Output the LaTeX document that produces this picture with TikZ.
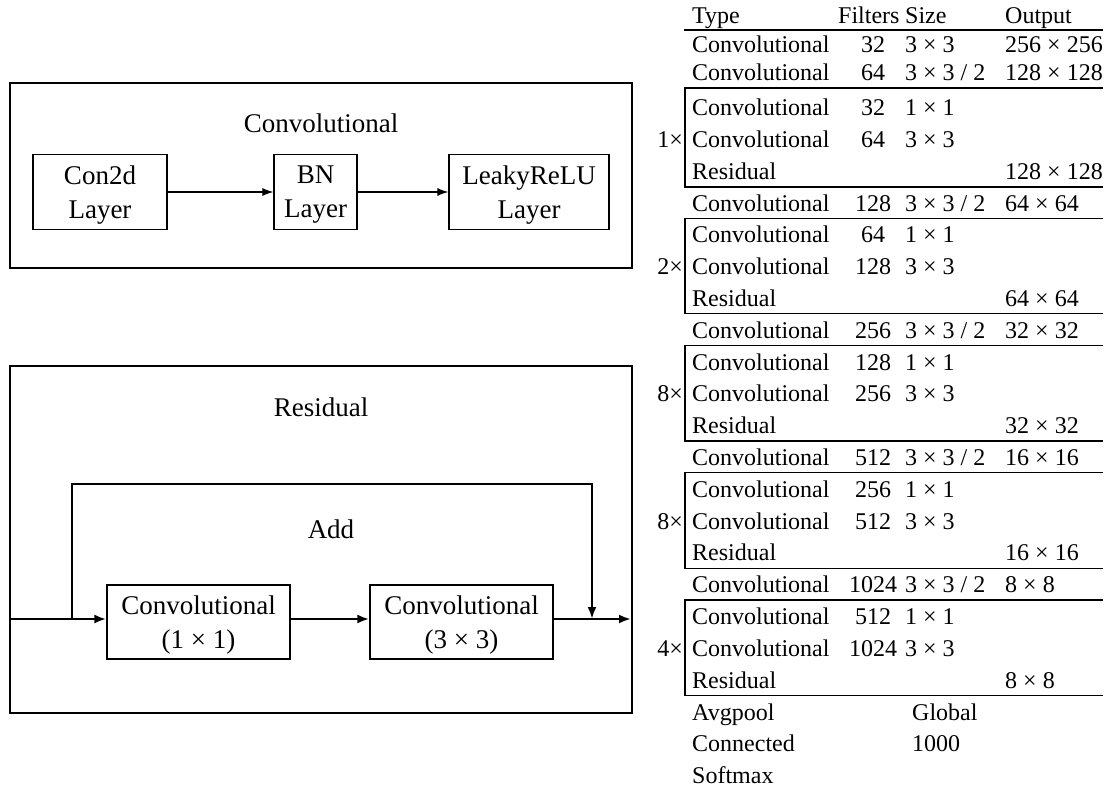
\documentclass[tikz,border=0pt]{standalone}
\usepackage{fontspec}
\setmainfont{Liberation Serif}
\usetikzlibrary{arrows.meta}

\tikzset{
	frame/.style={line width=1.3pt},
	layerbox/.style={draw,line width=1.3pt,align=center,inner sep=0pt,text depth=0pt,font=\fontsize{27}{34}\selectfont},
	title/.style={inner sep=0pt,font=\fontsize{27}{33}\selectfont},
	thinarrow/.style={line width=1.1pt,-{Latex[length=11pt,width=8pt]}},
	thickarrow/.style={line width=2.6pt,-{Latex[length=12pt,width=9pt]}},
	cell/.style={anchor=mid west,yshift=-3.5pt,inner sep=0pt,font=\fontsize{24}{29}\selectfont},
	numcell/.style={anchor=mid,yshift=-3.5pt,inner sep=0pt,font=\fontsize{24}{29}\selectfont},
	times/.style={anchor=mid east,yshift=-3.5pt,inner sep=0pt,font=\fontsize{24}{29}\selectfont},
	rule/.style={line width=1.3pt}
}

\begin{document}
\begin{tikzpicture}[x=1pt,y=-1pt]
		\useasboundingbox (0,0) rectangle (1113,791);

		% convolutional block
		\draw[frame] (10,83) rectangle (632,268);
		\node[title] (convtitle) at (321,123) {Convolutional};
		\node[layerbox,minimum width=134,minimum height=75] (con2d) at (100,192) {Con2d\\Layer};
		\node[layerbox,minimum width=83,minimum height=75] (bn) at (315.5,192) {BN\\Layer};
		\node[layerbox,minimum width=160,minimum height=75] (leaky) at (529,192) {LeakyReLU\\Layer};
		\draw[thinarrow] (con2d) -- (bn);
		\draw[thinarrow] (bn) -- (leaky);

		% residual block
		\draw[frame] (10,366) rectangle (632,713);
		\node[title] (restitle) at (321,407) {Residual};
		\node[title] (add) at (331,529) {Add};
		\coordinate (in) at (10,619);
		\coordinate (split) at (72,619);
		\coordinate (skiptop) at (332,484);
		\coordinate (join) at (592,619);
		\coordinate (out) at (631,619);
		\node[layerbox,minimum width=183,minimum height=74] (conv1) at (198.5,622) {Convolutional\\(1 × 1)};
		\node[layerbox,minimum width=183,minimum height=74] (conv3) at (461.5,622) {Convolutional\\(3 × 3)};
		\draw[thickarrow] (in) -- (in -| conv1.west);
		\draw[thickarrow] (conv1.east |- in) -- (conv3.west |- in);
		\draw[thickarrow] (conv3.east |- in) -- (out);
		\draw[line width=2.6pt] (split) |- (skiptop);
		\draw[thickarrow] (skiptop) -| (join);

		% table
		\node[cell] (type) at (692,18) {Type};
		\node[cell] (filters) at (838,18) {Filters};
		\node[cell] (size) at (905,18) {Size};
		\node[cell] (output) at (1005,18) {Output};
		\draw[rule] (684,30) -- (1103,30);

		\node[cell] (t1) at (692,47) {Convolutional};
		\node[numcell] (f1) at (873,47) {32};
		\node[cell] (s1) at (905,47) {3 × 3};
		\node[cell] (o1) at (1005,47) {256 × 256};

		\node[cell] (t2) at (692,75) {Convolutional};
		\node[numcell] (f2) at (873,75) {64};
		\node[cell] (s2) at (905,75) {3 × 3 / 2};
		\node[cell] (o2) at (1005,75) {128 × 128};

		% 1x block
		\draw[rule] (1103,88) -- (685,88) -- (685,187) -- (1103,187);
		\node[cell] (t3) at (692,110) {Convolutional};
		\node[numcell] (f3) at (873,110) {32};
		\node[cell] (s3) at (905,110) {1 × 1};
		\node[times] (m1) at (683,141.8) {1×};
		\node[cell] (t4) at (692,141.8) {Convolutional};
		\node[numcell] (f4) at (873,141.8) {64};
		\node[cell] (s4) at (905,141.8) {3 × 3};
		\node[cell] (t5) at (692,173.6) {Residual};
		\node[cell] (o5) at (1005,173.6) {128 × 128};

		\node[cell] (t6) at (692,205.4) {Convolutional};
		\node[numcell] (f6) at (873,205.4) {128};
		\node[cell] (s6) at (905,205.4) {3 × 3 / 2};
		\node[cell] (o6) at (1005,205.4) {64 × 64};

		% 2x block
		\draw[rule] (1103,218.4) -- (685,218.4) -- (685,313.8) -- (1103,313.8);
		\node[cell] (t7) at (692,237.2) {Convolutional};
		\node[numcell] (f7) at (873,237.2) {64};
		\node[cell] (s7) at (905,237.2) {1 × 1};
		\node[times] (m2) at (683,269) {2×};
		\node[cell] (t8) at (692,269) {Convolutional};
		\node[numcell] (f8) at (873,269) {128};
		\node[cell] (s8) at (905,269) {3 × 3};
		\node[cell] (t9) at (692,300.8) {Residual};
		\node[cell] (o9) at (1005,300.8) {64 × 64};

		\node[cell] (t10) at (692,332.6) {Convolutional};
		\node[numcell] (f10) at (873,332.6) {256};
		\node[cell] (s10) at (905,332.6) {3 × 3 / 2};
		\node[cell] (o10) at (1005,332.6) {32 × 32};

		% 8x block
		\draw[rule] (1103,345.6) -- (685,345.6) -- (685,441) -- (1103,441);
		\node[cell] (t11) at (692,364.4) {Convolutional};
		\node[numcell] (f11) at (873,364.4) {128};
		\node[cell] (s11) at (905,364.4) {1 × 1};
		\node[times] (m3) at (683,396.2) {8×};
		\node[cell] (t12) at (692,396.2) {Convolutional};
		\node[numcell] (f12) at (873,396.2) {256};
		\node[cell] (s12) at (905,396.2) {3 × 3};
		\node[cell] (t13) at (692,428) {Residual};
		\node[cell] (o13) at (1005,428) {32 × 32};

		\node[cell] (t14) at (692,459.8) {Convolutional};
		\node[numcell] (f14) at (873,459.8) {512};
		\node[cell] (s14) at (905,459.8) {3 × 3 / 2};
		\node[cell] (o14) at (1005,459.8) {16 × 16};

		% 8x block
		\draw[rule] (1103,472.8) -- (685,472.8) -- (685,568.2) -- (1103,568.2);
		\node[cell] (t15) at (692,491.6) {Convolutional};
		\node[numcell] (f15) at (873,491.6) {256};
		\node[cell] (s15) at (905,491.6) {1 × 1};
		\node[times] (m4) at (683,523.4) {8×};
		\node[cell] (t16) at (692,523.4) {Convolutional};
		\node[numcell] (f16) at (873,523.4) {512};
		\node[cell] (s16) at (905,523.4) {3 × 3};
		\node[cell] (t17) at (692,555.2) {Residual};
		\node[cell] (o17) at (1005,555.2) {16 × 16};

		\node[cell] (t18) at (692,587) {Convolutional};
		\node[numcell] (f18) at (873,587) {1024};
		\node[cell] (s18) at (905,587) {3 × 3 / 2};
		\node[cell] (o18) at (1005,587) {8 × 8};

		% 4x block
		\draw[rule] (1103,600) -- (685,600) -- (685,695.4) -- (1103,695.4);
		\node[cell] (t19) at (692,618.8) {Convolutional};
		\node[numcell] (f19) at (873,618.8) {512};
		\node[cell] (s19) at (905,618.8) {1 × 1};
		\node[times] (m5) at (683,650.6) {4×};
		\node[cell] (t20) at (692,650.6) {Convolutional};
		\node[numcell] (f20) at (873,650.6) {1024};
		\node[cell] (s20) at (905,650.6) {3 × 3};
		\node[cell] (t21) at (692,682.4) {Residual};
		\node[cell] (o21) at (1005,682.4) {8 × 8};

		\node[cell] (t22) at (692,714.2) {Avgpool};
		\node[cell] (s22) at (912,714.2) {Global};
		\node[cell] (t23) at (692,746) {Connected};
		\node[cell] (s23) at (912,746) {1000};
		\node[cell] (t24) at (692,777.8) {Softmax};
	\end{tikzpicture}
\end{document}
